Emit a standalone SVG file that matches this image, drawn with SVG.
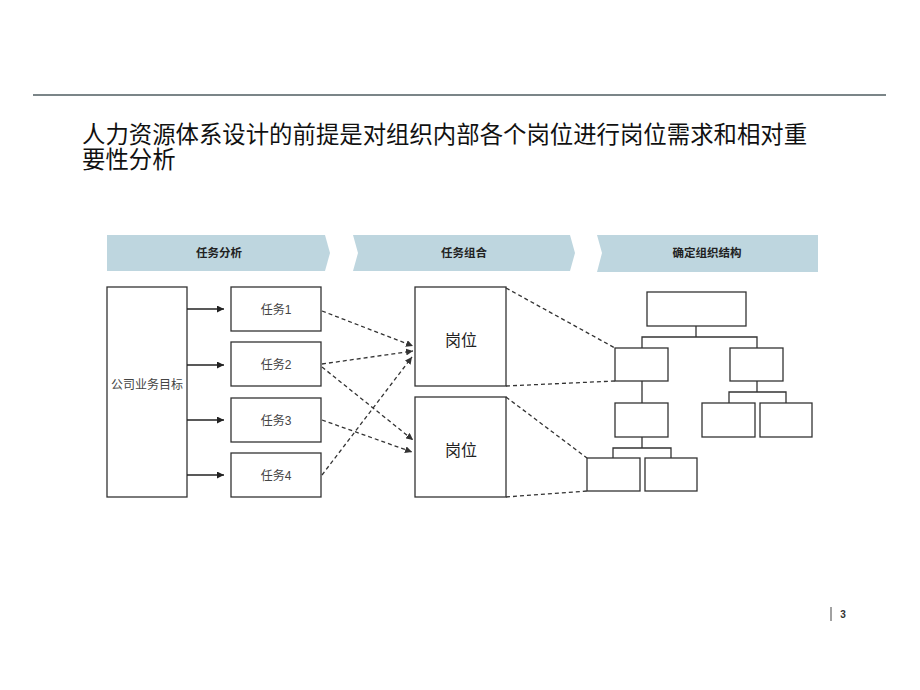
<svg xmlns="http://www.w3.org/2000/svg" width="920" height="690" viewBox="0 0 920 690">
<defs>
<style>
.box{fill:#fff;stroke:#333;stroke-width:1.3}
.org{fill:#fff;stroke:#333;stroke-width:1.3}
.ln{fill:none;stroke:#333;stroke-width:1.3}
.dash{fill:none;stroke:#333;stroke-width:1.3;stroke-dasharray:4 3}
.solid{fill:none;stroke:#222;stroke-width:1.3}
.band{fill:#bed6df}
.bt{font-family:"Liberation Sans","Noto Sans CJK SC",sans-serif;font-size:11.5px;font-weight:bold;fill:#222;text-anchor:middle}
.tt{font-family:"Liberation Sans","Noto Sans CJK SC",sans-serif;font-size:12px;fill:#444;text-anchor:middle}
.pt{font-family:"Liberation Sans","Noto Sans CJK SC",sans-serif;font-size:16px;fill:#222;text-anchor:middle}
.title{font-family:"Liberation Serif","Noto Sans CJK SC",serif;font-size:23.4px;fill:#111}
</style>
<marker id="ah" viewBox="0 0 10 10" refX="10" refY="5" markerWidth="7" markerHeight="7" markerUnits="userSpaceOnUse" orient="auto">
<path d="M0,0 L10,5 L0,10 z" fill="#222"/>
</marker>
<marker id="ah2" viewBox="0 0 10 10" refX="10" refY="5" markerWidth="7" markerHeight="7" markerUnits="userSpaceOnUse" orient="auto">
<path d="M0,0 L10,5 L0,10 z" fill="#333"/>
</marker>
</defs>
<rect width="920" height="690" fill="#fff"/>
<line x1="33" y1="95" x2="886" y2="95" stroke="#4f5d61" stroke-width="1.5"/>
<text class="title" x="82" y="143">人力资源体系设计的前提是对组织内部各个岗位进行岗位需求和相对重</text>
<text class="title" x="82" y="168">要性分析</text>

<g id="band1"><path class="band" d="M107,235 L325,235 L330,253 L325,271 L107,271 Z"/><text class="bt" x="219" y="257">任务分析</text></g>
<g id="band2"><path class="band" d="M353,235 L570,235 L575,253 L570,271 L353,271 L358,253 Z"/><text class="bt" x="464" y="257">任务组合</text></g>
<g id="band3"><path class="band" d="M597,235 L818,235 L818,272 L597,272 L602,253 Z"/><text class="bt" x="707" y="257">确定组织结构</text></g>

<g id="goal"><rect class="box" x="107" y="287" width="80" height="210"/><text class="tt" x="147" y="389">公司业务目标</text></g>
<g id="task1"><rect class="box" x="231" y="287" width="90" height="44"/><text class="tt" x="276" y="314">任务1</text></g>
<g id="task2"><rect class="box" x="231" y="342" width="90" height="44"/><text class="tt" x="276" y="369">任务2</text></g>
<g id="task3"><rect class="box" x="231" y="398" width="90" height="44"/><text class="tt" x="276" y="425">任务3</text></g>
<g id="task4"><rect class="box" x="231" y="453" width="90" height="44"/><text class="tt" x="276" y="480">任务4</text></g>
<g id="post1"><rect class="box" x="415" y="287" width="91" height="99"/><text class="pt" x="461" y="346">岗位</text></g>
<g id="post2"><rect class="box" x="415" y="397" width="91" height="100"/><text class="pt" x="461" y="456">岗位</text></g>

<g id="org">
<rect class="org" x="647" y="292" width="99" height="34"/>
<rect class="org" x="615" y="348" width="53" height="33"/>
<rect class="org" x="730" y="348" width="53" height="33"/>
<rect class="org" x="615" y="403" width="53" height="34"/>
<rect class="org" x="702" y="403" width="53" height="34"/>
<rect class="org" x="760" y="403" width="52" height="34"/>
<rect class="org" x="587" y="458" width="53" height="33"/>
<rect class="org" x="645" y="458" width="52" height="33"/>
<path class="ln" d="M696,326 V337 M642,348 V337 H757 V348 M642,381 V403 M757,381 V392 M729,403 V392 H786 V403 M642,437 V448 M613,458 V448 H671 V458"/>
</g>

<g id="connectors">
<line class="solid" x1="187" y1="309" x2="224" y2="309" marker-end="url(#ah)"/>
<line class="solid" x1="187" y1="365" x2="224" y2="365" marker-end="url(#ah)"/>
<line class="solid" x1="187" y1="420" x2="224" y2="420" marker-end="url(#ah)"/>
<line class="solid" x1="187" y1="475" x2="224" y2="475" marker-end="url(#ah)"/>
<line class="dash" x1="322" y1="311" x2="413" y2="346" marker-end="url(#ah2)"/>
<line class="dash" x1="322" y1="364" x2="413" y2="351" marker-end="url(#ah2)"/>
<line class="dash" x1="322" y1="367" x2="413" y2="440" marker-end="url(#ah2)"/>
<line class="dash" x1="322" y1="420" x2="412" y2="452" marker-end="url(#ah2)"/>
<line class="dash" x1="322" y1="475" x2="412" y2="357" marker-end="url(#ah2)"/>
<line class="dash" x1="506" y1="288" x2="615" y2="348"/>
<line class="dash" x1="506" y1="386" x2="615" y2="381"/>
<line class="dash" x1="506" y1="397" x2="587" y2="458"/>
<line class="dash" x1="506" y1="497" x2="587" y2="491"/>
</g>

<line x1="831" y1="607" x2="831" y2="621" stroke="#444" stroke-width="1"/>
<text x="843" y="618" style="font-family:'Liberation Sans',sans-serif;font-size:10px;font-weight:bold;fill:#333;text-anchor:middle">3</text>
</svg>
